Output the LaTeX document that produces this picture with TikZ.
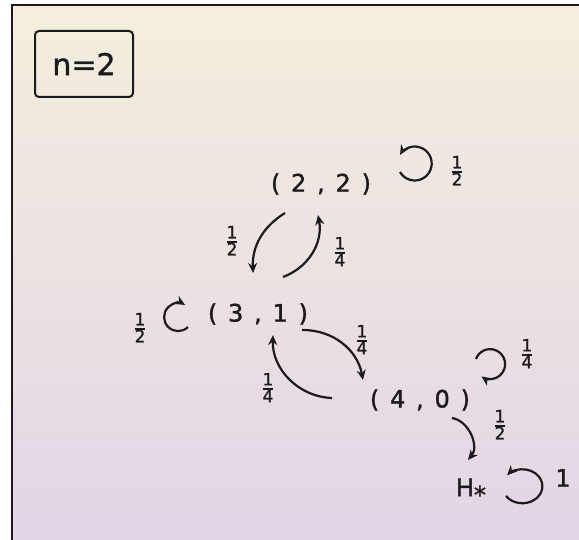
\documentclass[tikz,border=0pt]{standalone}
\usepackage{fontspec}
\setmainfont[FakeBold=1]{DejaVu Sans}
\newfontfamily\statefont[LetterSpace=45, FakeBold=1.5]{DejaVu Sans}
\usetikzlibrary{arrows.meta,calc}

\definecolor{ink}{RGB}{28,26,28}
\definecolor{paperTop}{RGB}{244,239,222}
\definecolor{paperMid}{RGB}{240,231,234}
\definecolor{paperBot}{RGB}{226,213,230}

\setlength{\arrayrulewidth}{1.6pt}
\newcommand{\hfrac}[2]{\renewcommand{\arraystretch}{0.8}%
  \begin{tabular}{@{}c@{}}#1\\[-2pt]\hline #2\end{tabular}}

\begin{document}
\begin{tikzpicture}[x=1pt, y=1pt,
  state/.style={inner sep=0pt, text=ink, font=\statefont\fontsize{24}{28}\selectfont},
  prob/.style={inner sep=0pt, text=ink, font=\fontsize{17}{20}\selectfont},
  title/.style={draw=ink, line width=2pt, rounded corners=4pt,
    minimum width=98pt, minimum height=66pt, text=ink,
    font=\fontsize{30}{34}\selectfont},
  arr/.style={-{Stealth[length=10pt,width=9pt]}, line width=2.2pt, draw=ink}
]

\useasboundingbox (0,0) rectangle (579,-540);
% paper and photo frame
\shade[top color=paperTop, middle color=paperMid, bottom color=paperBot]
  (12,-5) rectangle (579,-540);
\draw[line width=2pt, ink] (12,-540) -- (12,-5) -- (579,-5);

\node[title] (n) at (84,-64) {n=2};

% states
\node[state] (s22) at (321,-184) {(2,2)};
\node[state] (s31) at (258,-314) {(3,1)};
\node[state] (s40) at (420,-400) {(4,0)};
\node[state] (sH) at (471,-491) {H\raisebox{-0.3em}{*}};

% probabilities
\node[prob] (p22) at (457,-173) {\hfrac{1}{2}};
\node[prob] (p2231) at (232,-243) {\hfrac{1}{2}};
\node[prob] (p3122) at (340,-254) {\hfrac{1}{4}};
\node[prob] (p31) at (140,-330) {\hfrac{1}{2}};
\node[prob] (p3140) at (362,-342) {\hfrac{1}{4}};
\node[prob] (p4031) at (268,-390) {\hfrac{1}{4}};
\node[prob] (p40) at (527,-356) {\hfrac{1}{4}};
\node[prob] (p40H) at (500,-427) {\hfrac{1}{2}};
\node[state] (pH) at (563,-478) {1};

% transitions
\draw[arr] ([shift={(-36,-29)}]s22.center) to[bend right=30] ([shift={(-5,41)}]s31.center);
\draw[arr] ([shift={(25,37)}]s31.center) to[bend right=40] ([shift={(-3,-31)}]s22.center);
\draw[arr] ([shift={(44,-16)}]s31.center) to[bend left=40] ([shift={(-57,20)}]s40.center);
\draw[arr] ([shift={(-88,2)}]s40.center) to[bend left=45] ([shift={(15,-21)}]s31.center);
\draw[arr] ([shift={(32,-18)}]s40.center) to[bend left=60] ([shift={(-3,31)}]sH.center);

% self loops
\draw[arr] ([shift={(79,12)}]s22.center) arc[start angle=-150, end angle=150, radius=17];
\draw[arr] ([shift={(-70,-13)}]s31.center) arc[start angle=-45, end angle=-300, radius=14];
\draw[arr] ([shift={(56,41)}]s40.center) arc[start angle=160, end angle=-125, radius=15];
\draw[arr] ([shift={(35,-5)}]sH.center) arc[start angle=-145, end angle=140, x radius=20, y radius=17];

\end{tikzpicture}
\end{document}
